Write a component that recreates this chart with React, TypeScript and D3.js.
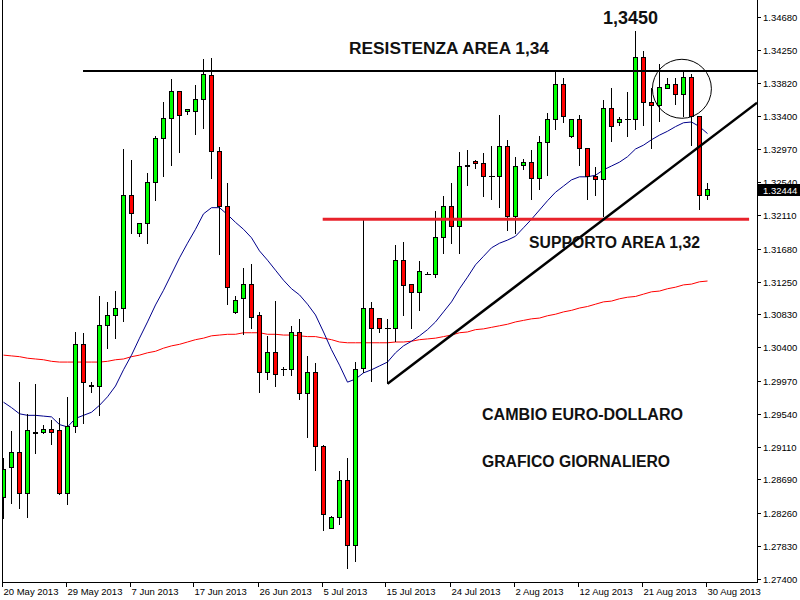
import React from "react";
import * as d3 from "d3";

// OHLC (EUR/USD daily, 20 May – 30 Aug 2013)
const opens = [1.2845,1.2884,1.2904,1.2851,1.2930,1.2930,1.2934,1.2932,1.2851,1.2938,
1.3044,1.2991,1.2989,1.3069,1.3081,1.3091,1.3237,1.3187,1.3201,1.3254,
1.3311,1.3336,1.3371,1.3345,1.3346,1.3361,1.3392,1.3294,1.3223,1.3085,
1.3103,1.3122,1.3081,1.3007,1.3034,1.3012,1.3012,1.3059,1.2980,1.3007,
1.2912,1.2806,1.2820,1.2867,1.2783,1.3013,1.3090,1.3077,1.3064,1.3064,
1.3153,1.3121,1.3111,1.3134,1.3134,1.3182,1.3222,1.3196,1.3274,1.3281,
1.3278,1.3261,1.3261,1.3300,1.3209,1.3276,1.3279,1.3259,1.3305,1.3335,
1.3380,1.3313,1.3335,1.3298,1.3261,1.3257,1.3349,1.3331,1.3335,1.3335,
1.3416,1.3357,1.3354,1.3376,1.3380,1.3368,1.3389,1.3339,1.3237];
const highs = [1.2898,1.2933,1.2996,1.2955,1.2993,1.2940,1.2947,1.2949,1.2977,1.3060,
1.3059,1.2996,1.3107,1.3100,1.3114,1.3298,1.3284,1.3201,1.3267,1.3315,
1.3358,1.3388,1.3372,1.3348,1.3380,1.3414,1.3415,1.3300,1.3253,1.3107,
1.3143,1.3149,1.3086,1.3055,1.3101,1.3015,1.3069,1.3077,1.3030,1.3021,
1.2914,1.2822,1.2881,1.2897,1.3022,1.3206,1.3099,1.3077,1.3078,1.3173,
1.3177,1.3123,1.3153,1.3138,1.3217,1.3237,1.3254,1.3294,1.3296,1.3284,
1.3293,1.3301,1.3342,1.3309,1.3287,1.3285,1.3297,1.3315,1.3344,1.3397,
1.3389,1.3335,1.3342,1.3298,1.3274,1.3361,1.3377,1.3339,1.3372,1.3450,
1.3425,1.3377,1.3408,1.3390,1.3390,1.3397,1.3395,1.3339,1.3253];
const lows = [1.2819,1.2838,1.2831,1.2820,1.2903,1.2929,1.2914,1.2849,1.2837,1.2930,
1.2942,1.2982,1.2952,1.3039,1.3051,1.3073,1.3188,1.3184,1.3175,1.3230,
1.3262,1.3275,1.3292,1.3342,1.3316,1.3323,1.3259,1.3160,1.3096,1.3084,
1.3057,1.3064,1.2982,1.2998,1.2989,1.3004,1.3003,1.2972,1.2923,1.2881,
1.2803,1.2806,1.2811,1.2754,1.2763,1.3007,1.2996,1.3059,1.2993,1.3048,
1.3081,1.3065,1.3088,1.3134,1.3131,1.3162,1.3175,1.3162,1.3250,1.3272,
1.3236,1.3232,1.3221,1.3191,1.3187,1.3270,1.3231,1.3244,1.3263,1.3322,
1.3331,1.3312,1.3276,1.3231,1.3237,1.3209,1.3307,1.3327,1.3313,1.3322,
1.3327,1.3298,1.3332,1.3376,1.3355,1.3339,1.3302,1.3218,1.3231];
const closes = [1.2882,1.2904,1.2851,1.2932,1.2928,1.2934,1.2930,1.2851,1.2938,1.3044,
1.2995,1.2989,1.3069,1.3081,1.3091,1.3237,1.3213,1.3200,1.3254,1.3311,
1.3336,1.3371,1.3341,1.3348,1.3361,1.3393,1.3294,1.3223,1.3118,1.3101,
1.3122,1.3079,1.3007,1.3034,1.3005,1.3012,1.3059,1.2980,1.3007,1.2911,
1.2824,1.2820,1.2867,1.2783,1.3012,1.3090,1.3064,1.3064,1.3064,1.3153,
1.3120,1.3111,1.3138,1.3134,1.3182,1.3222,1.3196,1.3274,1.3276,1.3278,
1.3261,1.3261,1.3300,1.3209,1.3274,1.3279,1.3259,1.3305,1.3335,1.3380,
1.3339,1.3335,1.3298,1.3261,1.3257,1.3349,1.3326,1.3335,1.3335,1.3416,
1.3357,1.3354,1.3377,1.3380,1.3368,1.3389,1.3339,1.3237,1.32444];

// moving averages
const maFast = [1.2969,1.2962,1.2954,1.2952,1.2952,1.2951,1.2950,1.2940,1.2937,1.2948,
1.2952,1.2956,1.2965,1.2976,1.2990,1.3011,1.3030,1.3052,1.3073,1.3095,
1.3114,1.3135,1.3156,1.3175,1.3193,1.3213,1.3221,1.3221,1.3212,1.3202,
1.3193,1.3182,1.3165,1.3153,1.3140,1.3127,1.3116,1.3108,1.3096,1.3082,
1.3060,1.3037,1.3017,1.2995,1.2999,1.3007,1.3011,1.3016,1.3021,1.3033,
1.3042,1.3048,1.3055,1.3063,1.3073,1.3086,1.3099,1.3116,1.3131,1.3147,
1.3158,1.3169,1.3175,1.3179,1.3184,1.3195,1.3206,1.3218,1.3230,1.3241,
1.3249,1.3257,1.3261,1.3261,1.3263,1.3270,1.3275,1.3280,1.3287,1.3297,
1.3302,1.3309,1.3315,1.3320,1.3326,1.3331,1.3332,1.3326,1.3317];
const maSlow = [1.3030,1.3029,1.3028,1.3026,1.3025,1.3024,1.3022,1.3021,1.3021,1.3021,
1.3021,1.3021,1.3021,1.3022,1.3024,1.3025,1.3028,1.3030,1.3033,1.3035,
1.3039,1.3042,1.3044,1.3047,1.3050,1.3052,1.3055,1.3056,1.3057,1.3057,
1.3059,1.3059,1.3059,1.3057,1.3057,1.3056,1.3056,1.3055,1.3054,1.3054,
1.3052,1.3050,1.3047,1.3046,1.3046,1.3046,1.3046,1.3046,1.3046,1.3047,
1.3047,1.3048,1.3050,1.3051,1.3052,1.3054,1.3056,1.3059,1.3060,1.3063,
1.3064,1.3066,1.3068,1.3070,1.3073,1.3075,1.3077,1.3078,1.3081,1.3083,
1.3086,1.3088,1.3091,1.3093,1.3096,1.3099,1.3100,1.3103,1.3105,1.3106,
1.3109,1.3112,1.3113,1.3116,1.3118,1.3121,1.3122,1.3125,1.3126];

const dateTickIndex = [0,8,16,24,32,40,48,56,64,72,80,88];
const dateTickLabels = ["20 May 2013","29 May 2013","7 Jun 2013","17 Jun 2013","26 Jun 2013","5 Jul 2013","15 Jul 2013","24 Jul 2013","2 Aug 2013","12 Aug 2013","21 Aug 2013","30 Aug 2013"];
const priceTicks = ["1.34680","1.34250","1.33820","1.33400","1.32970","1.32540","1.32110","1.31680","1.31250","1.30830","1.30400","1.29970","1.29540","1.29110","1.28690","1.28260","1.27830","1.27400"];
const lastPrice = 1.32444;

// drawn annotations (bar index / price)
const resistance = { price: 1.3398, from: 9.94, to: 94.2 };
const support = { price: 1.3206, from: 39.9, to: 93.2 };
const trend = { fromBar: 48, fromPrice: 1.2993, toBar: 94.2, toPrice: 1.3357 };
const circleMark = { bar: 84.8, price: 1.3375 };

export default function App() {
  const x = d3.scaleLinear().domain([0, 88]).range([3.5, 707.5]);
  const y = d3.scaleLinear().domain([1.274, 1.3468]).range([579, 17]);
  const hp = (v: number) => Math.round(v - 0.5) + 0.5;

  const lineFast = d3.line<number>().x((_, i) => x(i)).y((d) => y(d));
  const lineSlow = d3.line<number>().x((_, i) => x(i)).y((d) => y(d));

  const GREEN = "#00ff00";
  const RED = "#ff0000";
  const lastY = y(lastPrice);

  return (
    <div style={{ position: "fixed", left: 0, top: 0 }}>
      <svg width={800} height={600} style={{ display: "block", background: "#fff" }}>
        <defs>
          <clipPath id="plot">
            <rect x={3} y={1} width={754} height={581} />
          </clipPath>
        </defs>
        <rect x={0} y={0} width={800} height={600} fill="#fff" />
        <g clipPath="url(#plot)">
          <path d={lineSlow(maSlow) || ""} fill="none" stroke={RED} strokeWidth={1} />
          <path d={lineFast(maFast) || ""} fill="none" stroke="#00008b" strokeWidth={1} />
          {opens.map((o, i) => {
            const c = closes[i];
            const cx = x(i);
            const yH = hp(y(highs[i]));
            const yL = hp(y(lows[i]));
            const yT = hp(y(Math.max(o, c)));
            const yB = hp(y(Math.min(o, c)));
            const fill = c > o ? GREEN : c < o ? RED : "none";
            return (
              <g key={i}>
                <line x1={cx} x2={cx} y1={yH} y2={yL} stroke="#000" strokeWidth={1} shapeRendering="crispEdges" />
                {yB - yT < 1 ? (
                  <line x1={cx - 3} x2={cx + 3} y1={yT} y2={yT} stroke="#000" strokeWidth={1} shapeRendering="crispEdges" />
                ) : (
                  <rect x={cx - 2} y={yT} width={4} height={yB - yT} fill={fill} stroke="#000" strokeWidth={1} shapeRendering="crispEdges" />
                )}
              </g>
            );
          })}
          {/* annotations */}
          <line x1={x(resistance.from)} x2={x(resistance.to)} y1={y(resistance.price)} y2={y(resistance.price)} stroke="#000" strokeWidth={2} />
          <line x1={x(support.from)} x2={x(support.to)} y1={y(support.price)} y2={y(support.price)} stroke="#e8222b" strokeWidth={3} />
          <line x1={x(trend.fromBar)} x2={x(trend.toBar)} y1={y(trend.fromPrice)} y2={y(trend.toPrice)} stroke="#000" strokeWidth={2.5} />
          <circle cx={x(circleMark.bar)} cy={y(circleMark.price)} r={29.5} fill="none" stroke="#000" strokeWidth={1} />
        </g>

        {/* frame */}
        <line x1={2.5} x2={2.5} y1={0} y2={583} stroke="#000" strokeWidth={1} />
        <line x1={757.5} x2={757.5} y1={0} y2={583} stroke="#000" strokeWidth={1} />
        <line x1={2} x2={758} y1={582.5} y2={582.5} stroke="#000" strokeWidth={1} />

        {/* price axis */}
        {priceTicks.map((t) => {
          const py = Math.round(y(+t)) + 0.5;
          return (
            <g key={t}>
              <line x1={758} x2={761} y1={py} y2={py} stroke="#000" strokeWidth={1} />
              <text x={763} y={py} dominantBaseline="central" fontFamily="'Liberation Sans', Arial, sans-serif" fontSize={9.5} fill="#000">{t}</text>
            </g>
          );
        })}
        <rect x={758} y={Math.round(lastY) - 6} width={42} height={12} fill="#000" />
        <text x={763} y={Math.round(lastY)} dominantBaseline="central" fontFamily="'Liberation Sans', Arial, sans-serif" fontSize={9.5} fill="#fff">{lastPrice.toFixed(5)}</text>

        {/* time axis */}
        {dateTickIndex.map((bi, k) => {
          const tx = Math.round(x(bi)) - 1.5;
          return (
            <g key={bi}>
              <line x1={tx} x2={tx} y1={583} y2={587} stroke="#000" strokeWidth={1} />
              <text x={tx + 1} y={595} fontFamily="'Liberation Sans', Arial, sans-serif" fontSize={9.5} fill="#000">{dateTickLabels[k]}</text>
            </g>
          );
        })}

        {/* text annotations */}
        <g fontFamily="'Liberation Sans', Arial, sans-serif" fontWeight="bold" fill="#111">
          <text x={603} y={24} fontSize={18}>1,3450</text>
          <text x={349} y={54} fontSize={16} textLength={200} lengthAdjust="spacingAndGlyphs">RESISTENZA AREA 1,34</text>
          <text x={529} y={247.5} fontSize={16} textLength={171} lengthAdjust="spacingAndGlyphs">SUPPORTO AREA 1,32</text>
          <text x={482} y={420} fontSize={16} textLength={201} lengthAdjust="spacingAndGlyphs">CAMBIO EURO-DOLLARO</text>
          <text x={482} y={467} fontSize={16} textLength={188} lengthAdjust="spacingAndGlyphs">GRAFICO GIORNALIERO</text>
        </g>
      </svg>
    </div>
  );
}
